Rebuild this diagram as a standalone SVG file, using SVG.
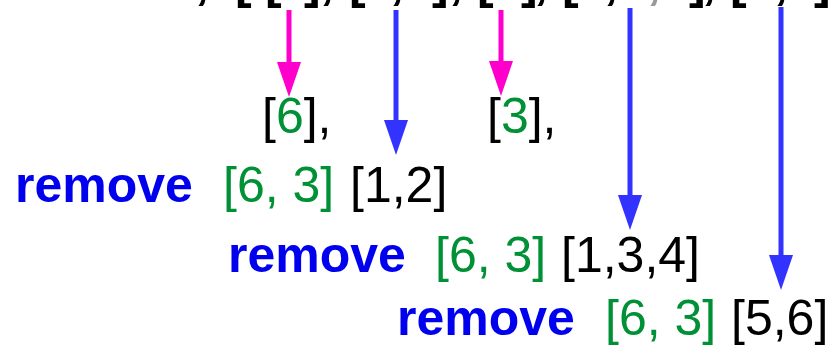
<svg xmlns="http://www.w3.org/2000/svg" width="833" height="346" viewBox="0 0 833 346">
<style>
.t{font-family:"Liberation Sans",Arial,sans-serif;font-size:50px;fill:#000}
.b{font-weight:bold}
.kw{font-weight:bold;fill:#0000ee}
.g{fill:#009036}
.gr{fill:#999999}
.mg{stroke:#ff00cc;stroke-width:5;fill:none}
.bl{stroke:#3333ff;stroke-width:5;fill:none}
</style>
<defs>
<marker id="hm" markerUnits="userSpaceOnUse" markerWidth="24" markerHeight="36" refX="12" refY="0" viewBox="0 0 24 36" overflow="visible">
<path d="M0,0 L24,0 L12,35 Z" fill="#ff00cc"/>
</marker>
<marker id="hb" markerUnits="userSpaceOnUse" markerWidth="24" markerHeight="36" refX="12" refY="0" viewBox="0 0 24 36" overflow="visible">
<path d="M0,0 L24,0 L12,35 Z" fill="#3333ff"/>
</marker>
</defs>
<rect width="833" height="346" fill="#fff"/>
<g id="top-row">
<text class="t b" y="-2"><tspan x="195 235 265 281 304 320 349 365 390 404 432 449 477 493 521 534 562 578 604 618">,[[6],[1,2],[3],[1,3</tspan><tspan class="gr" x="647">,</tspan><tspan x="661 689 702 730 746 774 788 814">4],[5,6]</tspan></text>
</g>
<g id="row1">
<text class="t" x="262" y="133">[<tspan class="g">6</tspan>],</text>
<text class="t" x="487" y="133">[<tspan class="g">3</tspan>],</text>
</g>
<g id="row2">
<text class="t kw" x="15" y="202">remove</text>
<text class="t g" x="223" y="202">[6, 3]</text>
<text class="t" x="350" y="202">[1,2]</text>
</g>
<g id="row3">
<text class="t kw" x="228" y="272">remove</text>
<text class="t g" x="435" y="272">[6, 3]</text>
<text class="t" x="561" y="272">[1,3,4]</text>
</g>
<g id="row4">
<text class="t kw" x="397" y="335">remove</text>
<text class="t g" x="605" y="335">[6, 3]</text>
<text class="t" x="731" y="335">[5,6]</text>
</g>
<g id="connectors">
<line class="mg" x1="289" y1="10" x2="289" y2="62" marker-end="url(#hm)"/>
<line class="mg" x1="501" y1="10" x2="501" y2="61" marker-end="url(#hm)"/>
<line class="bl" x1="396" y1="10" x2="396" y2="120" marker-end="url(#hb)"/>
<line class="bl" x1="630" y1="8" x2="630" y2="195" marker-end="url(#hb)"/>
<line class="bl" x1="781" y1="7" x2="781" y2="255" marker-end="url(#hb)"/>
</g>
</svg>
